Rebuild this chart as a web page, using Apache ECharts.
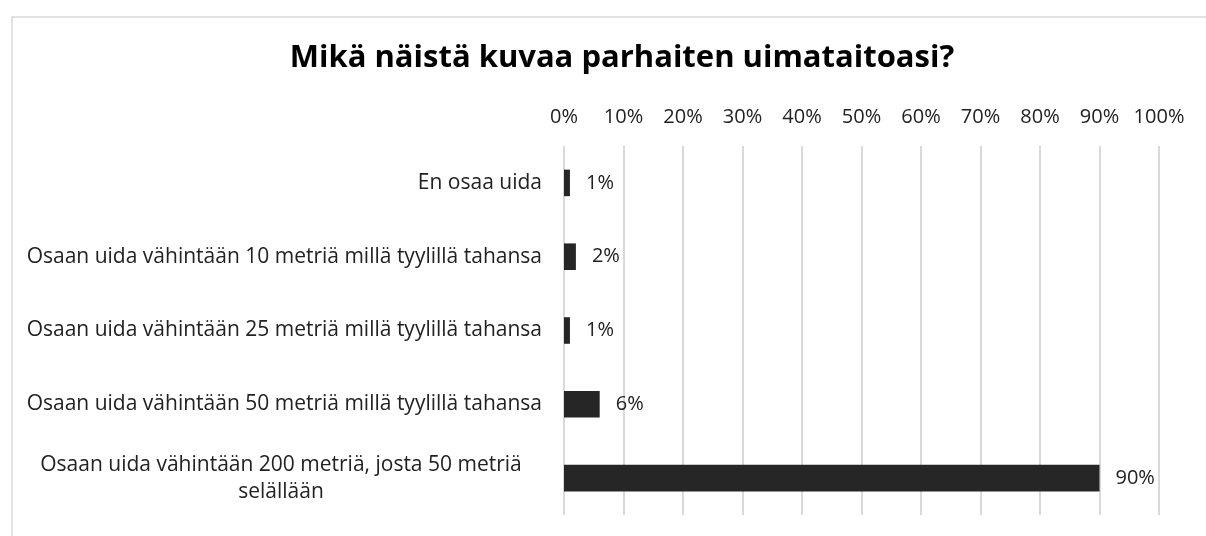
<!DOCTYPE html>
<html>
<head>
<meta charset="utf-8">
<script src="https://cdn.jsdelivr.net/npm/echarts@6/dist/echarts.min.js"></script>
<style>
  html, body { margin: 0; padding: 0; background: #fff; }
  #chart { width: 1206px; height: 536px; }
</style>
</head>
<body>
<div id="chart"></div>
<script>
// vastausvaihtoehdot ylhäältä alas
var categories = [
  "En osaa uida",
  "Osaan uida vähintään 10 metriä millä tyylillä tahansa",
  "Osaan uida vähintään 25 metriä millä tyylillä tahansa",
  "Osaan uida vähintään 50 metriä millä tyylillä tahansa",
  "Osaan uida vähintään 200 metriä, josta 50 metriä\nselällään"
];
// osuudet prosentteina
var values = [1, 2, 1, 6, 90];
var tickMin = 0, tickMax = 100, tickStep = 10;

var myChart = echarts.init(document.getElementById('chart'));
var fontFam = "'Open Sans', 'Noto Sans', sans-serif";

var option = {
  animation: false,
  backgroundColor: '#fff',
  title: {
    text: 'Mikä näistä kuvaa parhaiten uimataitoasi?',
    left: 617,
    textAlign: 'center',
    top: 38,
    textStyle: {
      fontFamily: fontFam,
      fontSize: 31,
      fontWeight: 'bold',
      color: '#000'
    }
  },
  graphic: [{
    type: 'rect',
    left: 9.5,
    top: 14.5,
    shape: { width: 1300, height: 600 },
    style: { fill: 'none', stroke: '#d9d9d9', lineWidth: 1.5 },
    silent: true
  }],
  grid: { left: 564, right: 47, top: 146, bottom: 21 },
  xAxis: {
    type: 'value',
    position: 'top',
    min: tickMin,
    max: tickMax,
    interval: tickStep,
    axisLine: { show: false },
    axisTick: { show: false },
    axisLabel: {
      formatter: '{value}%',
      margin: 19,
      fontFamily: fontFam,
      fontSize: 20,
      color: '#222'
    },
    splitLine: { show: true, lineStyle: { color: '#d9d9d9', width: 2 } }
  },
  yAxis: {
    type: 'category',
    data: categories,
    inverse: true,
    axisLine: { show: false },
    axisTick: { show: false },
    axisLabel: {
      margin: 22,
      fontFamily: fontFam,
      fontSize: 21,
      color: '#222',
      formatter: function (v) {
        if (v.indexOf('\n') < 0) return v;
        return v.split('\n').map(function (s) { return '{c|' + s + '}'; }).join('\n');
      },
      rich: {
        c: {
          width: 522,
          align: 'center',
          fontFamily: fontFam,
          fontSize: 21,
          color: '#222',
          lineHeight: 27
        }
      }
    }
  },
  series: [{
    type: 'bar',
    data: values,
    barCategoryGap: '64%',
    itemStyle: { color: '#262626' },
    label: {
      show: true,
      position: 'right',
      distance: 16,
      formatter: '{c}%',
      fontFamily: fontFam,
      fontSize: 20,
      color: '#222'
    }
  }]
};

myChart.setOption(option);
window.addEventListener('resize', function () {
  myChart.resize();
});
</script>
</body>
</html>
